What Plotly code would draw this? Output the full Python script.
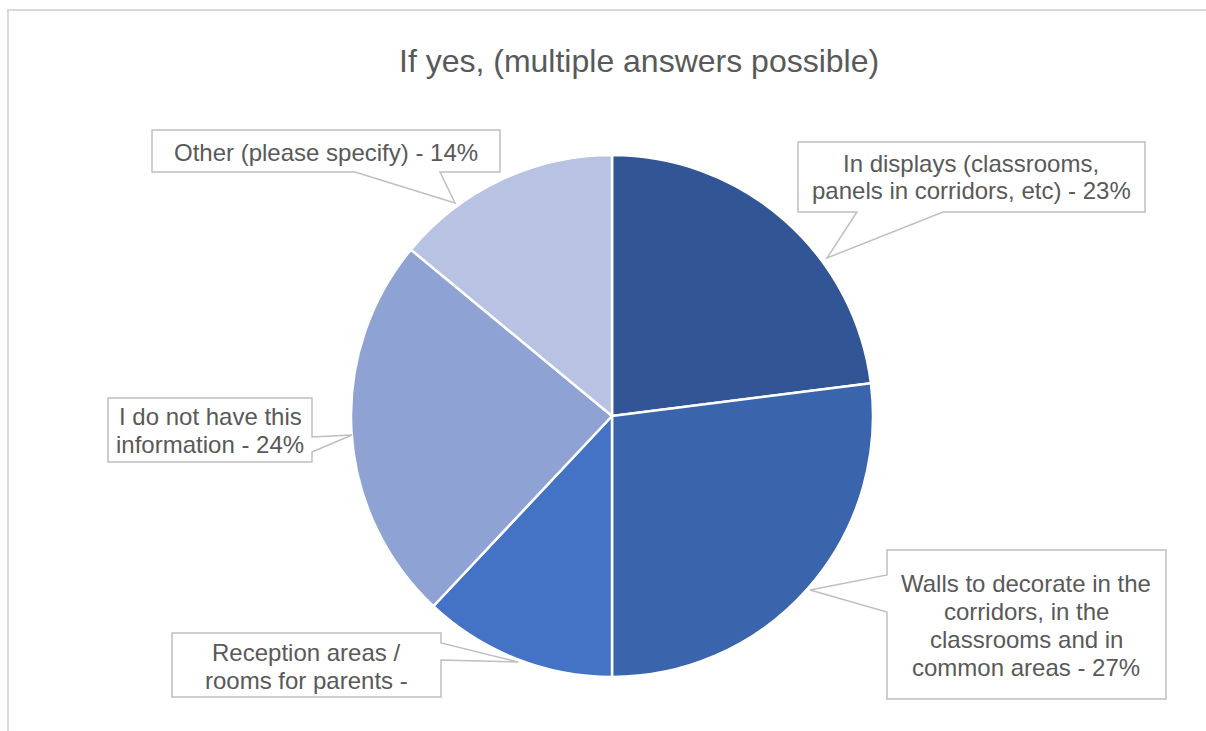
import plotly.graph_objects as go

# ---- data ----
categories = [
    "In displays (classrooms, panels in corridors, etc)",
    "Walls to decorate in the corridors, in the classrooms and in common areas",
    "Reception areas / rooms for parents",
    "I do not have this information",
    "Other (please specify)",
]
values = [23, 27, 12, 24, 14]
slice_colors = ["#315595", "#3A64AC", "#4472C4", "#8FA2D4", "#B8C2E2"]

callout_lines = [
    ["In displays (classrooms,", "panels in corridors, etc) - 23%"],
    ["Walls to decorate in the", "corridors, in the", "classrooms and in", "common areas - 27%"],
    ["Reception areas /", "rooms for parents -"],
    ["I do not have this", "information - 24%"],
    ["Other (please specify) - 14%"],
]
title_text = "If yes, (multiple answers possible)"

# ---- layout helpers (pixel -> paper) ----
W, H = 1206, 731


def px(x):
    return x / W


def py(y):
    return 1 - y / H


def path_from_px(points):
    pts = [f"{px(x):.5f},{py(y):.5f}" for x, y in points]
    return "M " + " L ".join(pts) + " Z"


# callout geometry: (polygon in pixels, text center x, first line center y)
callout_geom = [
    ([(798, 142), (1145, 142), (1145, 212), (943, 212), (827, 258), (857, 212), (798, 212)], 971, 163),
    ([(887, 550), (1166, 550), (1166, 699), (887, 699), (887, 612), (810, 590), (887, 575)], 1026, 583),
    ([(172, 633), (441, 633), (441, 643), (518, 662), (441, 660), (441, 697), (172, 697)], 306, 652),
    ([(108, 398), (312, 398), (312, 437), (352, 435), (312, 452), (312, 462), (108, 462)], 210, 416),
    ([(152, 130), (500, 130), (500, 172), (440, 172), (455, 203), (355, 172), (152, 172)], 326, 152),
]
line_step = 28
font_family = "Arial, Liberation Sans, sans-serif"
text_color = "#595959"

# pie placement: center (612, 416), radius 261
cx, cy, r = 612, 416, 261

fig = go.Figure(
    go.Pie(
        labels=categories,
        values=values,
        sort=False,
        direction="clockwise",
        rotation=0,
        marker=dict(colors=slice_colors, line=dict(color="white", width=2.5)),
        textinfo="none",
        hoverinfo="label+percent",
        showlegend=False,
        domain=dict(x=[px(cx - r), px(cx + r)], y=[py(cy + r), py(cy - r)]),
    )
)

shapes = [
    # outer chart border (partially visible)
    dict(type="path", xref="paper", yref="paper",
         path=f"M {px(8):.5f},{py(731):.5f} L {px(8):.5f},{py(10):.5f} L {px(1206):.5f},{py(10):.5f}",
         line=dict(color="#D9D9D9", width=2)),
]
annotations = [
    dict(text=title_text, x=px(639), y=py(61), xref="paper", yref="paper",
         showarrow=False, xanchor="center", yanchor="middle",
         font=dict(family=font_family, size=32, color=text_color)),
]
for (poly, tx, ty0), lines in zip(callout_geom, callout_lines):
    shapes.append(dict(type="path", xref="paper", yref="paper", path=path_from_px(poly),
                       fillcolor="white", line=dict(color="#BFBFBF", width=1.5), layer="above"))
    for i, ln in enumerate(lines):
        annotations.append(dict(text=ln, x=px(tx), y=py(ty0 + i * line_step), xref="paper", yref="paper",
                                showarrow=False, xanchor="center", yanchor="middle",
                                font=dict(family=font_family, size=24, color=text_color)))

fig.update_layout(
    width=W, height=H, autosize=False,
    margin=dict(l=0, r=0, t=0, b=0),
    paper_bgcolor="white", plot_bgcolor="white",
    shapes=shapes, annotations=annotations,
)

fig.write_html("out.html")
